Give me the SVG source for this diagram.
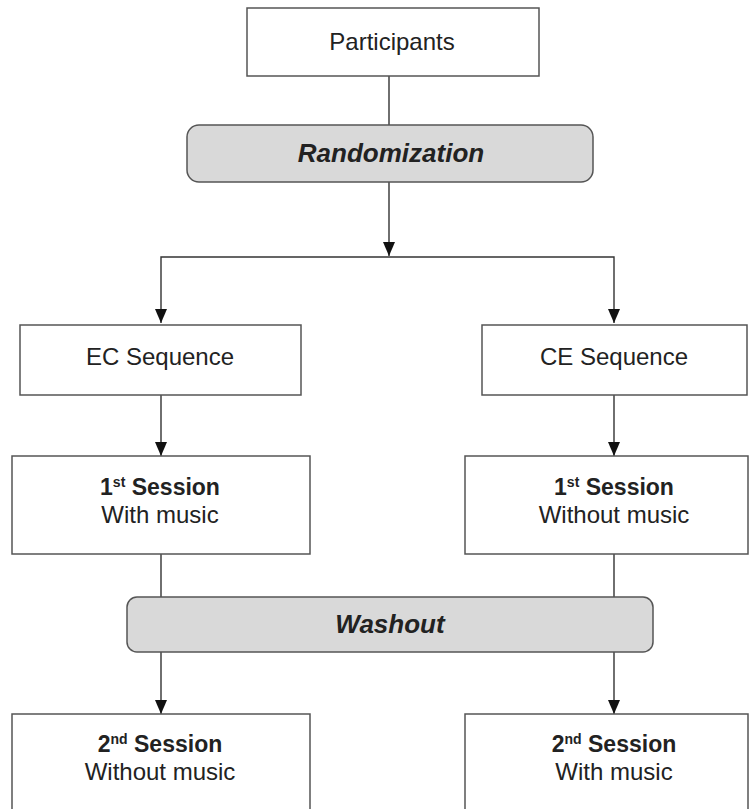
<svg xmlns="http://www.w3.org/2000/svg" width="750" height="809" viewBox="0 0 750 809">
<defs>
<marker id="arr" markerWidth="14" markerHeight="12" refX="14" refY="6" orient="auto-start-reverse" markerUnits="userSpaceOnUse" viewBox="0 0 14 12">
<path d="M0,0 L14,6 L0,12 Z" fill="#111"/>
</marker>
</defs>
<style>
.box{fill:#fff;stroke:#555;stroke-width:1.5}
.gbox{fill:#d9d9d9;stroke:#555;stroke-width:1.5}
.t{font-family:"Liberation Sans",Arial,sans-serif;font-size:24px;fill:#222;text-anchor:middle}
.b{font-weight:bold;font-size:23px}
.bi{font-weight:bold;font-style:italic;font-size:26px}
.i{font-style:italic;font-weight:bold;font-size:26px}
.sup{font-size:14px}
.c{stroke:#333;stroke-width:1.4;fill:none}
</style>
<rect width="750" height="809" fill="#fff"/>
<g id="connectors">
<line class="c" x1="389" y1="76" x2="389" y2="125"/>
<line class="c" x1="389" y1="182" x2="389" y2="256" marker-end="url(#arr)"/>
<polyline class="c" points="161,323 161,257 614,257 614,323" marker-start="url(#arr)" marker-end="url(#arr)"/>
<line class="c" x1="161" y1="395" x2="161" y2="456" marker-end="url(#arr)"/>
<line class="c" x1="614" y1="395" x2="614" y2="456" marker-end="url(#arr)"/>
<line class="c" x1="161" y1="554" x2="161" y2="597"/>
<line class="c" x1="614" y1="554" x2="614" y2="597"/>
<line class="c" x1="161" y1="652" x2="161" y2="714" marker-end="url(#arr)"/>
<line class="c" x1="614" y1="652" x2="614" y2="714" marker-end="url(#arr)"/>
</g>
<g id="participants">
<rect class="box" x="247" y="8" width="292" height="68"/>
<text class="t" x="392" y="50">Participants</text>
</g>
<g id="randomization">
<rect class="gbox" x="187" y="125" width="406" height="57" rx="12"/>
<text class="t bi" x="391" y="162">Randomization</text>
</g>
<g id="ec-sequence">
<rect class="box" x="20" y="325" width="281" height="70"/>
<text class="t" x="160" y="365">EC Sequence</text>
</g>
<g id="ce-sequence">
<rect class="box" x="482" y="325" width="265" height="70"/>
<text class="t" x="614" y="365">CE Sequence</text>
</g>
<g id="session1-left">
<rect class="box" x="12" y="456" width="298" height="98"/>
<text class="t b" x="160" y="495">1<tspan class="sup" dy="-8">st</tspan><tspan dy="8"> Session</tspan></text>
<text class="t" x="160" y="523">With music</text>
</g>
<g id="session1-right">
<rect class="box" x="465" y="456" width="283" height="98"/>
<text class="t b" x="614" y="495">1<tspan class="sup" dy="-8">st</tspan><tspan dy="8"> Session</tspan></text>
<text class="t" x="614" y="523">Without music</text>
</g>
<g id="washout">
<rect class="gbox" x="127" y="597" width="526" height="55" rx="10"/>
<text class="t i" x="390" y="633">Washout</text>
</g>
<g id="session2-left">
<rect class="box" x="12" y="714" width="298" height="110"/>
<text class="t b" x="160" y="752">2<tspan class="sup" dy="-8">nd</tspan><tspan dy="8"> Session</tspan></text>
<text class="t" x="160" y="780">Without music</text>
</g>
<g id="session2-right">
<rect class="box" x="465" y="714" width="283" height="110"/>
<text class="t b" x="614" y="752">2<tspan class="sup" dy="-8">nd</tspan><tspan dy="8"> Session</tspan></text>
<text class="t" x="614" y="780">With music</text>
</g>
</svg>
